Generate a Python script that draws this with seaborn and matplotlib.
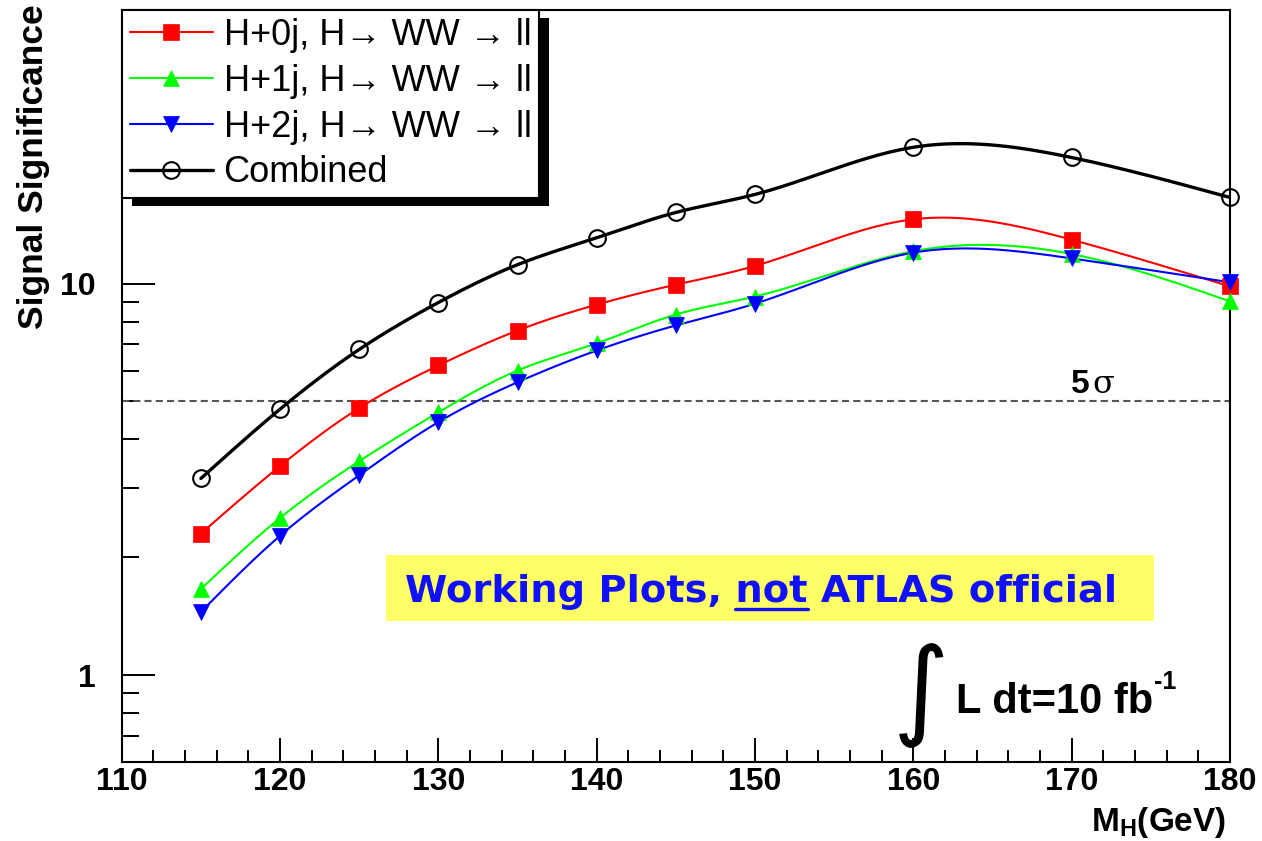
import numpy as np
import pandas as pd
import matplotlib
matplotlib.use("Agg")
import matplotlib.pyplot as plt
import seaborn as sns
from matplotlib.patches import Rectangle
from matplotlib.lines import Line2D
from matplotlib.ticker import LogLocator, FixedLocator, FixedFormatter, NullFormatter, MultipleLocator

# ---------------- data ----------------
mass_gev = [115, 120, 125, 130, 135, 140, 145, 150, 160, 170, 180]
sig_h0j = [2.30, 3.42, 4.81, 6.18, 7.59, 8.84, 9.94, 11.1, 14.6, 12.95, 9.84]
sig_h1j = [1.66, 2.52, 3.52, 4.69, 6.00, 7.04, 8.34, 9.27, 12.1, 11.9, 9.01]
sig_h2j = [1.45, 2.27, 3.24, 4.43, 5.60, 6.75, 7.82, 8.89, 12.0, 11.6, 10.08]
sig_comb = [3.18, 4.78, 6.79, 8.95, 11.18, 13.1, 15.2, 16.9, 22.3, 21.0, 16.6]
series_labels = ["H+0j, H\u2192 WW \u2192 ll", "H+1j, H\u2192 WW \u2192 ll",
                 "H+2j, H\u2192 WW \u2192 ll", "Combined"]
discovery_level = 5.0
x_ticks = [110, 120, 130, 140, 150, 160, 170, 180]
y_ticks = [1, 10]
y_tick_labels = ["1", "10"]
x_limits = (110, 180)
y_limits = (0.6, 50)

# ---------------- style ----------------
sns.set_style("white")
plt.rcParams["font.family"] = ["Liberation Sans", "DejaVu Sans"]
plt.rcParams["text.color"] = "black"
plt.rcParams["axes.labelcolor"] = "black"
plt.rcParams["xtick.color"] = "black"
plt.rcParams["ytick.color"] = "black"
plt.rcParams["mathtext.fontset"] = "custom"
plt.rcParams["mathtext.rm"] = "Liberation Sans:bold"
plt.rcParams["mathtext.bf"] = "Liberation Sans:bold"
plt.rcParams["mathtext.it"] = "Liberation Sans:bold"

W, H = 1262, 841
fig = plt.figure(figsize=(W / 100, H / 100), dpi=100, facecolor="white")
L, R, T, B = 121.7, 1230.0, 10.0, 762.0
ax = fig.add_axes([L / W, 1 - B / H, (R - L) / W, (B - T) / H])
ax.set_facecolor("white")


def smooth_curve(x, y, n=300):
    """natural cubic spline through the points in log-y space (ROOT 'C' draw)"""
    x = np.asarray(x, float)
    ly = np.log10(np.asarray(y, float))
    k = len(x)
    h = np.diff(x)
    A = np.zeros((k, k))
    r = np.zeros(k)
    A[0, 0] = A[-1, -1] = 1.0
    for i in range(1, k - 1):
        A[i, i - 1] = h[i - 1]
        A[i, i] = 2 * (h[i - 1] + h[i])
        A[i, i + 1] = h[i]
        r[i] = 3 * ((ly[i + 1] - ly[i]) / h[i] - (ly[i] - ly[i - 1]) / h[i - 1])
    c = np.linalg.solve(A, r)
    b = (ly[1:] - ly[:-1]) / h - h * (2 * c[:-1] + c[1:]) / 3
    d = (c[1:] - c[:-1]) / (3 * h)
    xs = np.linspace(x[0], x[-1], n)
    idx = np.clip(np.searchsorted(x, xs) - 1, 0, k - 2)
    dx = xs - x[idx]
    ys = ly[idx] + b[idx] * dx + c[idx] * dx ** 2 + d[idx] * dx ** 3
    return xs, 10 ** ys


series = [
    (sig_h0j, "#ff0000", "s", 12.0, 1.5, "#ff0000"),
    (sig_h1j, "#00ff00", "^", 12.0, 1.5, "#00ff00"),
    (sig_h2j, "#0000ff", "v", 12.0, 1.5, "#0000ff"),
    (sig_comb, "#000000", "o", 12.0, 2.4, "none"),
]

ax.set_yscale("log")
for vals, col, mk, ms, lw, fc in series:
    xs, ys = smooth_curve(mass_gev, vals)
    sns.lineplot(x=xs, y=ys, color=col, linewidth=lw, ax=ax, sort=False,
                 estimator=None, zorder=2)
    sns.lineplot(x=mass_gev, y=vals, color=col, marker=mk, markersize=ms,
                 markerfacecolor=fc, markeredgecolor=col,
                 markeredgewidth=(1.5 if fc == "none" else 0.5),
                 linestyle="none", ax=ax, sort=False, estimator=None, zorder=3,
                 clip_on=False)

ax.axhline(discovery_level, color="#555555", linewidth=1.5,
           linestyle=(0, (3.4, 2.0)), zorder=1.5)

# ---------------- axes ----------------
ax.set_xlim(*x_limits)
ax.set_ylim(*y_limits)
ax.xaxis.set_major_locator(FixedLocator(x_ticks))
ax.xaxis.set_minor_locator(MultipleLocator(2))
ax.yaxis.set_major_locator(FixedLocator(y_ticks))
ax.yaxis.set_major_formatter(FixedFormatter(y_tick_labels))
ax.yaxis.set_minor_locator(LogLocator(base=10, subs=np.arange(2, 10)))
ax.yaxis.set_minor_formatter(NullFormatter())

for s in ax.spines.values():
    s.set_linewidth(1.5)
    s.set_color("black")
ax.tick_params(axis="both", which="both", direction="in", color="black",
               width=1.4, top=False, right=False, bottom=True, left=True,
               labelcolor="black")
ax.tick_params(axis="x", which="major", length=17, pad=3.6, labelsize=23)
ax.tick_params(axis="x", which="minor", length=8.6)
ax.tick_params(axis="y", which="major", length=23.8, pad=19, labelsize=23)
ax.tick_params(axis="y", which="minor", length=12.2)
for lab in ax.get_xticklabels() + ax.get_yticklabels():
    lab.set_fontweight("bold")

ax.set_xlabel("M$_{\\mathregular{H}}$(GeV)", loc="right", fontsize=24,
              fontweight="bold", color="black")
ax.xaxis.set_label_coords(0.9964, -0.057)
ax.set_ylabel("Signal Significance", loc="top", fontsize=25.5, fontweight="bold",
              color="black")
ax.yaxis.set_label_coords(-0.0651, 1.007)

# ---------------- legend ----------------
handles = []
for vals, col, mk, ms, lw, fc in series:
    handles.append(Line2D([], [], color=col, linewidth=lw,
                          marker=mk, markersize=ms, markerfacecolor=fc,
                          markeredgecolor=col,
                          markeredgewidth=(1.5 if fc == "none" else 0.5)))
leg = ax.legend(handles, series_labels, loc="upper left", bbox_to_anchor=(0, 1),
                borderaxespad=0, frameon=True, fancybox=False, fontsize=26,
                handlelength=2.3, handletextpad=0.3, labelspacing=0.30,
                borderpad=0.22, edgecolor="black", framealpha=1)
leg.get_frame().set_linewidth(1.5)
leg.set_zorder(6)
for t in leg.get_texts():
    t.set_color("black")

# ---------------- annotations ----------------
def ax_xy(px, py):
    return (px - L) / (R - L), (B - py) / (B - T)

# yellow box
bx0, by0 = ax_xy(386, 621)
bx1, by1 = ax_xy(1154, 555)
ax.add_patch(Rectangle((bx0, by0), bx1 - bx0, by1 - by0, transform=ax.transAxes,
                       facecolor="#ffff66", edgecolor="none", zorder=4))

wp_text = "Working Plots, not ATLAS official"
tx, ty = ax_xy(405, 602)
fig.canvas.draw()
renderer = fig.canvas.get_renderer()
wp_font = dict(family=["DejaVu Sans"], fontweight="bold", color="#1010ff")
tmp = ax.text(tx, ty, wp_text, transform=ax.transAxes, fontsize=24, **wp_font)
w24 = tmp.get_window_extent(renderer).width
tmp.remove()
wp_fs = 24 * (1117 - 405) / w24
wp = ax.text(tx, ty, wp_text, transform=ax.transAxes, fontsize=wp_fs,
             va="baseline", ha="left", zorder=5, **wp_font)
# underline of "not"
t1 = ax.text(tx, ty, "Working Plots, not", transform=ax.transAxes, fontsize=wp_fs,
             va="baseline", **wp_font)
t2 = ax.text(tx, ty, "not", transform=ax.transAxes, fontsize=wp_fs,
             va="baseline", **wp_font)
e1 = t1.get_window_extent(renderer)
e2 = t2.get_window_extent(renderer)
t1.remove(); t2.remove()
ux1 = e1.x1
ux0 = e1.x1 - e2.width
inv = ax.transAxes.inverted()
(u0, uy), (u1, _) = inv.transform([(ux0, H - 609), (ux1, H - 609)])
ax.add_line(Line2D([u0, u1], [uy, uy], transform=ax.transAxes, color="#1010ff",
                   linewidth=2.4, zorder=5))

# 5 sigma label
sx, sy = ax_xy(1071, 393)
ax.text(sx, sy, "5", transform=ax.transAxes, fontsize=24, fontweight="bold",
        va="baseline", ha="left", zorder=5)
sgx, _ = ax_xy(1092, 393)
ax.text(sgx, sy, "\u03c3", transform=ax.transAxes, fontsize=23,
        family=["DejaVu Serif"], va="baseline", ha="left", zorder=5)

# luminosity
ix, iy = ax_xy(921, 695)
ax.text(ix, iy, "\u222b", transform=ax.transAxes, fontsize=78,
        family=["DejaVu Sans"], fontweight="normal", ha="center", va="center",
        zorder=5)
lx, ly_ = ax_xy(956, 713)
lt = ax.text(lx, ly_, "L dt=10 fb", transform=ax.transAxes, fontsize=30,
             fontweight="bold", va="baseline", ha="left", zorder=5)
le = lt.get_window_extent(renderer)
(px_, _), = inv.transform([(le.x1 + 1, 0)])
_, sy2 = ax_xy(0, 689)
ax.text(px_, sy2, "-1", transform=ax.transAxes, fontsize=18, fontweight="bold",
        va="baseline", ha="left", zorder=5)

# legend shadow
fig.canvas.draw()
bb = leg.get_window_extent(renderer)
(s0x, s0y), (s1x, s1y) = inv.transform([(bb.x0 + 10, bb.y0 - 8), (bb.x1 + 10, bb.y1 - 8)])
ax.add_patch(Rectangle((s0x, s0y), s1x - s0x, s1y - s0y, transform=ax.transAxes,
                       facecolor="black", edgecolor="none", zorder=5.5, clip_on=False))

fig.savefig("out.png", dpi=100, facecolor="white")
